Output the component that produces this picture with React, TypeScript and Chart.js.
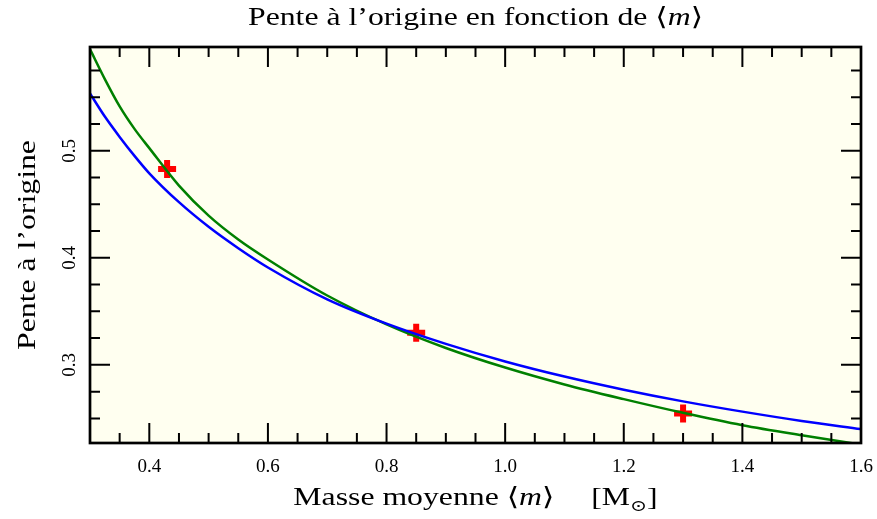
import React, { useEffect, useRef } from 'react';
import { Chart, registerables } from 'chart.js';

Chart.register(...registerables);

// ---- data ----
const massGrid = [0.3, 0.325, 0.35, 0.375, 0.4, 0.45, 0.5, 0.55, 0.6, 0.7, 0.8, 0.9, 1.0, 1.1, 1.2, 1.3, 1.4, 1.5, 1.6];
const greenSlope = [0.595, 0.567, 0.5415, 0.5205, 0.5025, 0.4675, 0.4395, 0.4172, 0.3985, 0.3648, 0.3378, 0.3158, 0.2975, 0.2817, 0.268, 0.2552, 0.2436, 0.2342, 0.2255];
const blueSlope = [0.5536, 0.532, 0.513, 0.4953, 0.479, 0.452, 0.429, 0.409, 0.391, 0.3612, 0.3385, 0.3196, 0.3032, 0.2891, 0.2768, 0.2659, 0.2563, 0.2476, 0.24];
const measuredMass = [0.43, 0.85, 1.3];
const measuredSlope = [0.483, 0.33, 0.2545];
const xMajorTicks = [0.4, 0.6, 0.8, 1.0, 1.2, 1.4, 1.6];
const yMajorTicks = [0.3, 0.4, 0.5];

const X_MIN = 0.3;
const X_MAX = 1.6;
const Y_MIN = 0.227;
const Y_MAX = 0.597;

const SERIF = '"Liberation Serif", "DejaVu Serif", serif';
const TITLE = 'Pente à l’origine en fonction de ';
const X_TITLE = 'Masse moyenne ';
const Y_TITLE = 'Pente à l’origine';
const STRETCH = 1.27;

type Seg = { t?: string; font?: string; dy?: number; gap?: number };

function segWidth(ctx: CanvasRenderingContext2D, s: Seg) {
  if (s.gap) return s.gap;
  ctx.font = s.font as string;
  return ctx.measureText(s.t as string).width;
}

function drawRich(
  ctx: CanvasRenderingContext2D,
  segs: Seg[],
  cx: number,
  by: number,
  rot = 0,
  sx = 1,
) {
  ctx.save();
  ctx.translate(cx, by);
  if (rot) ctx.rotate(rot);
  ctx.scale(sx, 1);
  let w = 0;
  for (const s of segs) w += segWidth(ctx, s);
  let x = -w / 2;
  ctx.textAlign = 'left';
  ctx.textBaseline = 'alphabetic';
  for (const s of segs) {
    if (!s.gap) {
      ctx.font = s.font as string;
      ctx.fillText(s.t as string, x, s.dy || 0);
    }
    x += segWidth(ctx, s);
  }
  ctx.restore();
}

const isMult = (v: number, step: number) => Math.abs(v / step - Math.round(v / step)) < 1e-6;

const framePlugin = {
  id: 'frame',
  beforeDraw(chart: any) {
    const { ctx, chartArea: a } = chart;
    ctx.save();
    ctx.fillStyle = '#ffffff';
    ctx.fillRect(0, 0, chart.width, chart.height);
    ctx.fillStyle = '#fffff0';
    ctx.fillRect(a.left, a.top, a.right - a.left, a.bottom - a.top);
    ctx.restore();
  },
  afterDraw(chart: any) {
    const { ctx, chartArea: a } = chart;
    const xs = chart.scales.x;
    const ys = chart.scales.y;
    ctx.save();
    ctx.strokeStyle = '#000';
    ctx.lineWidth = 2;
    // inward ticks on all four sides
    xs.ticks.forEach((tk: any) => {
      const v = tk.value;
      if (!isMult(v, 0.05)) return;
      const px = xs.getPixelForValue(v);
      if (px <= a.left + 1 || px >= a.right - 1) return;
      const len = isMult(v, 0.2) ? 20 : 10;
      ctx.beginPath();
      ctx.moveTo(px, a.bottom);
      ctx.lineTo(px, a.bottom - len);
      ctx.moveTo(px, a.top);
      ctx.lineTo(px, a.top + len);
      ctx.stroke();
    });
    ys.ticks.forEach((tk: any) => {
      const v = tk.value;
      if (!isMult(v, 0.025)) return;
      const py = ys.getPixelForValue(v);
      if (py <= a.top + 1 || py >= a.bottom - 1) return;
      const len = isMult(v, 0.1) ? 20 : 10;
      ctx.beginPath();
      ctx.moveTo(a.left, py);
      ctx.lineTo(a.left + len, py);
      ctx.moveTo(a.right, py);
      ctx.lineTo(a.right - len, py);
      ctx.stroke();
    });
    // frame
    ctx.lineWidth = 2.7;
    ctx.strokeRect(a.left, a.top, a.right - a.left, a.bottom - a.top);

    // tick labels
    ctx.fillStyle = '#000';
    ctx.font = `19px ${SERIF}`;
    ctx.textAlign = 'center';
    ctx.textBaseline = 'alphabetic';
    xs.ticks.forEach((tk: any) => {
      if (!tk.label) return;
      ctx.fillText(tk.label, xs.getPixelForValue(tk.value), a.bottom + 29);
    });
    ys.ticks.forEach((tk: any) => {
      if (!tk.label) return;
      const py = ys.getPixelForValue(tk.value);
      ctx.save();
      ctx.translate(a.left - 15, py);
      ctx.rotate(-Math.PI / 2);
      ctx.fillText(tk.label, 0, 0);
      ctx.restore();
    });

    // titles
    const cx = (a.left + a.right) / 2;
    const f = `25px ${SERIF}`;
    const fi = `italic 25px ${SERIF}`;
    drawRich(
      ctx,
      [
        { t: TITLE, font: f },
        { t: '⟨', font: f },
        { t: 'm', font: fi },
        { t: '⟩', font: f },
      ],
      cx,
      25,
      0,
      STRETCH,
    );

    drawRich(
      ctx,
      [
        { t: X_TITLE, font: f },
        { t: '⟨', font: f },
        { t: 'm', font: fi },
        { t: '⟩', font: f },
        { gap: 29 },
        { t: '[M', font: f },
        { t: '⊙', font: `16px ${SERIF}`, dy: 6 },
        { t: ']', font: f },
      ],
      cx,
      505,
      0,
      STRETCH,
    );

    drawRich(ctx, [{ t: Y_TITLE, font: f }], 35, (a.top + a.bottom) / 2, -Math.PI / 2, STRETCH);
    ctx.restore();
  },
};

export default function App() {
  const ref = useRef<HTMLCanvasElement | null>(null);

  useEffect(() => {
    if (!ref.current) return;
    const chart = new Chart(ref.current, {
      type: 'line',
      data: {
        datasets: [
          {
            label: 'blue',
            data: massGrid.map((m, i) => ({ x: m, y: blueSlope[i] })),
            borderColor: '#0000ff',
            borderWidth: 2.5,
            pointRadius: 0,
            cubicInterpolationMode: 'monotone',
            fill: false,
          },
          {
            label: 'green',
            data: massGrid.map((m, i) => ({ x: m, y: greenSlope[i] })),
            borderColor: '#008000',
            borderWidth: 2.5,
            pointRadius: 0,
            cubicInterpolationMode: 'monotone',
            fill: false,
          },
          {
            label: 'mesures',
            data: measuredMass.map((m, i) => ({ x: m, y: measuredSlope[i] })),
            showLine: false,
            pointStyle: 'cross',
            pointRadius: 9,
            pointBorderWidth: 6,
            pointBorderColor: '#ff0000',
            pointBackgroundColor: '#ff0000',
            borderColor: '#ff0000',
          },
        ],
      },
      options: {
        animation: false,
        responsive: true,
        maintainAspectRatio: false,
        layout: { padding: { top: 47, right: 16, left: 0, bottom: 0 } },
        plugins: {
          legend: { display: false },
          title: { display: false },
          tooltip: { enabled: false },
        },
        scales: {
          x: {
            type: 'linear',
            min: X_MIN,
            max: X_MAX,
            grid: { display: false },
            border: { display: false },
            ticks: {
              display: false,
              stepSize: 0.05,
              callback: (v: any) => {
                const n = Number(v);
                return xMajorTicks.some((t) => Math.abs(t - n) < 1e-6) ? n.toFixed(1) : '';
              },
            },
            afterFit: (s: any) => {
              s.height = 76;
            },
          },
          y: {
            type: 'linear',
            min: Y_MIN,
            max: Y_MAX,
            grid: { display: false },
            border: { display: false },
            ticks: {
              display: false,
              stepSize: 0.025,
              callback: (v: any) => {
                const n = Number(v);
                return yMajorTicks.some((t) => Math.abs(t - n) < 1e-6) ? n.toFixed(1) : '';
              },
            },
            afterFit: (s: any) => {
              s.width = 90;
            },
          },
        },
      },
      plugins: [framePlugin],
    } as any);
    return () => chart.destroy();
  }, []);

  return (
    <div style={{ position: 'fixed', left: 0, top: 0, width: 877, height: 519, background: '#fff' }}>
      <canvas ref={ref} />
    </div>
  );
}
